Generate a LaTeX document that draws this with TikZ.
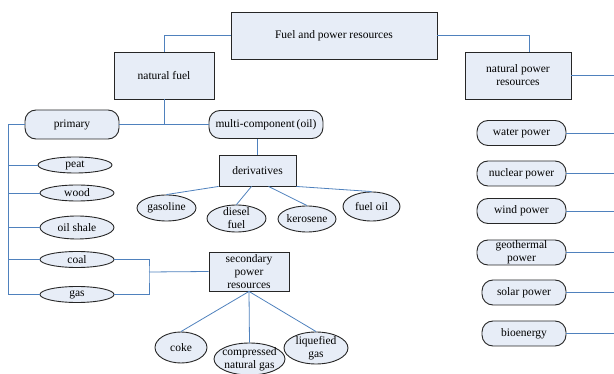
\documentclass[tikz,border=0pt]{standalone}
\usepackage{fontspec}
\setmainfont{Liberation Serif}
\usetikzlibrary{shapes.geometric}
\definecolor{boxfill}{RGB}{231,237,247}
\definecolor{linkblue}{RGB}{79,129,189}
\begin{document}
\begin{tikzpicture}[x=1pt,y=-1pt,
  every node/.style={font=\fontsize{11.5}{13}\selectfont, align=center, inner sep=0pt},
  box/.style={rectangle, draw=black!85, fill=boxfill, line width=0.9pt},
  pill/.style={box, rounded corners=11pt},
  oval/.style={box, ellipse, inner sep=-4pt},
  link/.style={draw=linkblue, line width=0.8pt},
  ]
\useasboundingbox (0,0) rectangle (614,374);
\coordinate (edge) at (614,0);
\coordinate (trunk) at (8,124.5);
\coordinate (bend) at (149,272);

\node[box, minimum width=206pt, minimum height=47pt] (fuel) at (334,35.5) {Fuel and power resources};
\node[box, minimum width=100pt, minimum height=47pt] (natfuel) at (164,75.5) {natural fuel};
\node[box, minimum width=106pt, minimum height=47pt] (natpower) at (518,75.5) {natural power\\resources};
\node[pill, minimum width=94pt, minimum height=29pt] (primary) at (72,124.5) {primary};
\node[pill, minimum width=114pt, minimum height=28pt] (multi) at (266,124.5) {multi-component\,(oil)};
\node[box, minimum width=77pt, minimum height=31pt] (deriv) at (257.5,170.5) {derivatives};
\node[box, minimum width=80pt, minimum height=39pt] (secondary) at (249,271.5) {secondary\\power\\resources};

\foreach \name/\x/\y/\h/\txt in {peat/75/165/16/peat, wood/77/193/16/wood,
    oilshale/77/227.5/23/oil shale, coal/77/259.5/16/coal, gas/77/294.5/16/gas}
  \node[oval, minimum width=74pt, minimum height=\h pt] (\name) at (\x,\y) {\txt};

\node[oval, minimum width=59pt, minimum height=26pt] (gasoline) at (166.5,208) {gasoline};
\node[oval, minimum width=59pt, minimum height=27pt] (diesel) at (236.5,218.5) {diesel\\fuel};
\node[oval, minimum width=58pt, minimum height=26pt] (kerosene) at (307,219) {kerosene};
\node[oval, minimum width=57pt, minimum height=29pt] (fueloil) at (371.5,206.5) {fuel oil};

\node[oval, minimum width=52pt, minimum height=31pt] (coke) at (181,347.5) {coke};
\node[oval, minimum width=71pt, minimum height=32pt] (cng) at (249.5,359) {compressed\\natural gas};
\node[oval, minimum width=64pt, minimum height=32pt] (liquid) at (316,348) {liquefied\\gas};

\foreach \name/\x/\y/\w/\txt in {water/521.5/133/89/water power, nuclear/521.5/173.5/89/nuclear power,
    wind/521.5/211/89/wind power, geo/521.5/252.5/89/geothermal\\power,
    solar/524/292.5/84/solar power, bio/524/333.5/84/bioenergy}{
  \node[pill, minimum width=\w pt, minimum height=25pt] (\name) at (\x,\y) {\txt};
  \draw[link] (\name.east) -- (\name.east -| edge);
}

\draw[link] (fuel.west) -| (natfuel.north);
\draw[link] (fuel.east) -| ([xshift=11pt]natpower.north);
\draw[link] (natpower.east) -- (natpower.east -| edge);
\draw[link] (natfuel.south) -- (natfuel.south |- primary.east);
\draw[link] (primary.east) -- (multi.west);
\draw[link] (multi.south -| deriv.north) -- (deriv.north);
\draw[link] (primary.west) -- (trunk) |- (gas.west);
\foreach \name in {peat,wood,oilshale,coal}
  \draw[link] (trunk |- \name.west) -- (\name.west);
\draw[link] (coal.east) -| (bend) |- (gas.east);
\draw[link] (bend) -- (secondary.west);
\draw[link] (gasoline.north) -- (deriv.south west);
\draw[link] (diesel.north) -- ([xshift=-6pt]deriv.south);
\draw[link] (kerosene.north) -- ([xshift=11pt]deriv.south);
\draw[link] (fueloil.north) -- (deriv.south east);
\draw[link] (secondary.south) -- (coke.north);
\draw[link] (secondary.south) -- (cng.north);
\draw[link] (secondary.south) -- (liquid.north);
\end{tikzpicture}
\end{document}
